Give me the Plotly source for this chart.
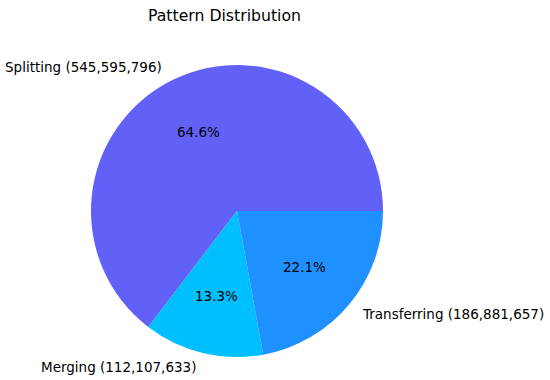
import math
import plotly.graph_objects as go

labels = ["Splitting", "Merging", "Transferring"]
counts = [545595796, 112107633, 186881657]
colors = ["#6161F8", "#00BFFF", "#1E90FF"]
title = "Pattern Distribution"

W, H = 550, 380
cx, cy, R = 237, 211, 146  # pie centre / radius in pixels
FONT = "DejaVu Sans"

total = sum(counts)
first_frac = counts[0] / total

fig = go.Figure()
fig.add_trace(go.Pie(
    labels=labels, values=counts, sort=False,
    direction="counterclockwise", rotation=90 - 360 * first_frac,
    marker=dict(colors=colors, line=dict(width=0)),
    textinfo="none", showlegend=False,
    domain=dict(x=[(cx - R) / W, (cx + R) / W],
                y=[(H - cy - R) / H, (H - cy + R) / H]),
))

ann = []
start = 0.0
for lab, v in zip(labels, counts):
    frac = v / total
    mid = math.radians((start + frac / 2) * 360)
    start += frac
    c, s = math.cos(mid), math.sin(mid)
    lx = cx + 1.1 * R * c + (0 if c > 0 else -1.5)
    ly = cy - 1.1 * R * s
    ann.append(dict(x=lx / W, y=1 - ly / H, xref="paper", yref="paper",
                    text=f"{lab} ({v:,})", showarrow=False,
                    xanchor="left" if c > 0 else "right", yanchor="middle",
                    font=dict(family=FONT, size=13.5, color="#000")))
    px = cx + 0.6 * R * c
    py = cy - 0.6 * R * s
    ann.append(dict(x=px / W, y=1 - py / H, xref="paper", yref="paper",
                    text=f"{frac*100:.1f}%", showarrow=False,
                    xanchor="center", yanchor="middle",
                    font=dict(family=FONT, size=13.5, color="#000")))

ann.append(dict(x=224 / W, y=1 - 15 / H, xref="paper", yref="paper",
                text=title, showarrow=False, xanchor="center", yanchor="middle",
                font=dict(family=FONT, size=15.7, color="#000")))

fig.update_layout(width=W, height=H, margin=dict(l=0, r=0, t=0, b=0),
                  paper_bgcolor="white", plot_bgcolor="white",
                  annotations=ann)
fig.write_html("out.html", config={"displayModeBar": False},
               post_script="document.body.style.margin='0';")
